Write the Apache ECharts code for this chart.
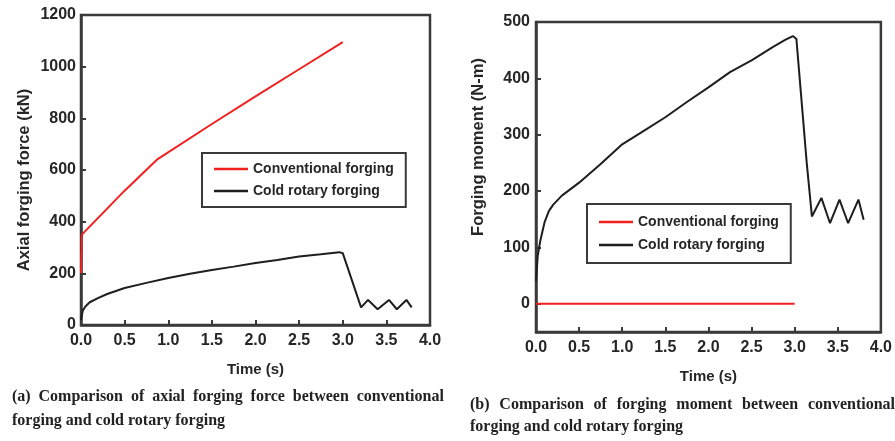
<!DOCTYPE html>
<html><head><meta charset="utf-8">
<script src="https://cdn.jsdelivr.net/npm/echarts@6/dist/echarts.min.js"></script>
<style>html,body{margin:0;padding:0;background:#fff}#c{width:895px;height:441px}</style>
</head><body><div id="c"></div>
<script>
// (a) Axial forging force
const forceConvT = [0, 0.01, 0.5, 0.87, 1.5, 2.0, 2.5, 3.0];
const forceConvV = [200, 350, 520, 640, 778, 885, 990, 1095];
const forceColdT = [0, 0.02, 0.05, 0.1, 0.2, 0.3, 0.5, 0.75, 1.0, 1.25, 1.5, 1.75, 2.0, 2.25, 2.5, 2.75, 2.96, 3.0, 3.21, 3.29, 3.40, 3.53, 3.62, 3.73, 3.79];
const forceColdV = [20, 55, 72, 88, 105, 120, 143, 163, 182, 198, 213, 226, 240, 252, 265, 274, 282, 278, 68, 97, 61, 97, 61, 97, 68];
// (b) Forging moment
const momConvT = [0, 3.0];
const momConvV = [0, 0];
const momColdT = [0, 0.02, 0.05, 0.1, 0.15, 0.2, 0.3, 0.5, 0.75, 1.0, 1.25, 1.5, 1.75, 2.0, 2.25, 2.5, 2.75, 2.9, 2.98, 3.02, 3.08, 3.14, 3.20, 3.31, 3.41, 3.52, 3.62, 3.74, 3.80];
const momColdV = [40, 85, 112, 145, 165, 176, 192, 215, 248, 283, 307, 331, 358, 384, 411, 432, 456, 469, 475, 470, 360, 250, 155, 188, 143, 185, 143, 185, 149];
const momTicks = [0, 100, 200, 300, 400, 500];
const seriesNames = ['Conventional forging', 'Cold rotary forging'];
const yNameA = 'Axial forging force (kN)';
const yNameB = 'Forging moment (N-m)';
const xName = 'Time (s)';
const captionA = ['(a) Comparison of axial forging force between conventional', 'forging and cold rotary forging'];
const captionB = ['(b) Comparison of forging moment between conventional', 'forging and cold rotary forging'];

const zip = (t, v) => t.map((x, i) => [x, v[i]]);
const FONT = 'Liberation Sans';
const TXT = '#262626';
const BORDER = '#3a3a3a';
const labelStyle = {fontFamily: FONT, fontWeight: 'bold', fontSize: 16, color: TXT};
const nameStyle = {fontFamily: FONT, fontWeight: 'bold', fontSize: 14, color: TXT};
const xNameStyle = {fontFamily: FONT, fontWeight: 'bold', fontSize: 15, color: TXT};
// justified first caption line: spaces become fixed-width rich tokens
const justify = (line) => line.split(' ').join('{s| }');

function xAx(gi) {
  return {
    type: 'value', gridIndex: gi, min: 0, max: 4, interval: 0.5,
    name: xName, nameLocation: 'middle', nameGap: 37, nameTextStyle: xNameStyle,
    axisLine: {show: true, onZero: false, lineStyle: {color: BORDER, width: 2.5}},
    axisTick: {show: true, inside: true, length: 5, lineStyle: {color: BORDER, width: 2}},
    axisLabel: Object.assign({margin: 8, formatter: v => v.toFixed(1)}, labelStyle),
    splitLine: {show: false}
  };
}
const capStyle = (sw, lh) => ({fontFamily: 'Liberation Serif', fontWeight: 'bold', fontSize: 16, color: '#222', lineHeight: lh,
  rich: {s: {width: sw, fontFamily: 'Liberation Serif', fontWeight: 'bold', fontSize: 16, lineHeight: lh}}});
const yNameText = (text, x, y) => ({type: 'text', x: x, y: y, rotation: Math.PI / 2,
  style: {text: text, fontFamily: FONT, fontWeight: 'bold', fontSize: 16.5, fill: TXT, align: 'center', verticalAlign: 'middle'}});
const option = {
  animation: false,
  backgroundColor: '#fff',
  title: [
    {text: justify(captionA[0]), left: 7, top: 381, textStyle: capStyle(7.9, 22)},
    {text: captionA[1], left: 7, top: 405, textStyle: capStyle(4, 22)},
    {text: justify(captionB[0]), left: 465, top: 389, textStyle: capStyle(9.8, 22)},
    {text: captionB[1], left: 465, top: 411, textStyle: capStyle(4, 22)}
  ],
  graphic: [yNameText(yNameA, 24, 180), yNameText(yNameB, 478, 147)],
  grid: [
    {left: 81, top: 15, width: 349, height: 310, show: true, borderColor: BORDER, borderWidth: 2.5, containLabel: false},
    {left: 536, top: 22, width: 347, height: 310, show: true, borderColor: BORDER, borderWidth: 2.5, containLabel: false}
  ],
  legend: [
    {data: seriesNames, orient: 'vertical', left: 202, top: 153, itemGap: 8, itemWidth: 34, itemHeight: 2.5, icon: 'rect',
     padding: [9, 12, 9, 12], borderColor: BORDER, borderWidth: 2, textStyle: nameStyle},
    {data: seriesNames, orient: 'vertical', left: 587, top: 204, itemGap: 9, itemWidth: 34, itemHeight: 2.5, icon: 'rect',
     padding: [11, 12, 11, 12], borderColor: BORDER, borderWidth: 2, textStyle: nameStyle}
  ],
  xAxis: [xAx(0), xAx(1)],
  yAxis: [
    {type: 'value', gridIndex: 0, min: 0, max: 1200, interval: 200,
     axisLine: {show: true, lineStyle: {color: BORDER, width: 2.5}},
     axisTick: {show: true, inside: true, length: 5, lineStyle: {color: BORDER, width: 2}},
     axisLabel: Object.assign({margin: 5, formatter: v => String(v)}, labelStyle), splitLine: {show: false}},
    {type: 'value', gridIndex: 1, min: -50, max: 500,
     axisLine: {show: true, lineStyle: {color: BORDER, width: 2.5}},
     axisTick: {show: true, inside: true, length: 5, customValues: momTicks, lineStyle: {color: BORDER, width: 2}},
     axisLabel: Object.assign({margin: 6, customValues: momTicks, formatter: v => String(v)}, labelStyle), splitLine: {show: false}}
  ],
  series: [
    {name: seriesNames[0], type: 'line', xAxisIndex: 0, yAxisIndex: 0, data: zip(forceConvT, forceConvV), symbol: 'none', lineStyle: {color: '#f0211f', width: 2}, itemStyle: {color: '#f0211f'}},
    {name: seriesNames[1], type: 'line', xAxisIndex: 0, yAxisIndex: 0, data: zip(forceColdT, forceColdV), symbol: 'none', lineStyle: {color: '#1e1e1e', width: 2}, itemStyle: {color: '#1e1e1e'}},
    {name: seriesNames[0], type: 'line', xAxisIndex: 1, yAxisIndex: 1, data: zip(momConvT, momConvV), symbol: 'none', lineStyle: {color: '#f0211f', width: 2}, itemStyle: {color: '#f0211f'}},
    {name: seriesNames[1], type: 'line', xAxisIndex: 1, yAxisIndex: 1, data: zip(momColdT, momColdV), symbol: 'none', lineStyle: {color: '#1e1e1e', width: 2}, itemStyle: {color: '#1e1e1e'}}
  ]
};
const chart = echarts.init(document.getElementById('c'), null, {renderer: 'canvas'});
chart.setOption(option);
</script>
</body></html>
